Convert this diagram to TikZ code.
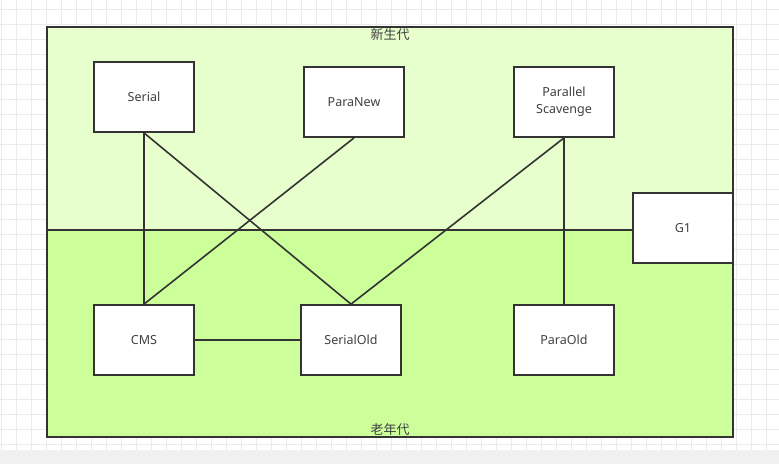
\documentclass[tikz,border=0pt]{standalone}
\usepackage{fontspec}
\setmainfont{Noto Sans}
\newfontfamily\cjk{Noto Sans CJK SC}
\definecolor{gridc}{HTML}{EBEBEB}
\definecolor{stripc}{HTML}{F0F0F0}
\definecolor{young}{HTML}{E6FFCC}
\definecolor{old}{HTML}{CCFF99}
\definecolor{edge}{HTML}{333333}
\definecolor{txt}{HTML}{404040}
\begin{document}
\begin{tikzpicture}[x=1pt,y=-1pt,
  gcbox/.style={draw=edge,line width=1.8pt,fill=white,minimum width=100pt,minimum height=70pt,inner sep=0pt,
     font=\fontsize{12.5}{17}\selectfont,text=txt,align=center},
  region/.style={draw=edge,line width=1.8pt,minimum width=686pt,inner sep=0pt},
  lbl/.style={font=\cjk\fontsize{13}{15}\selectfont,text=txt,inner sep=0pt},
  conn/.style={draw=edge,line width=1.6pt}]
\useasboundingbox (0,0) rectangle (779,464);
% background grid
\fill[white] (0,0) rectangle (779,450);
\foreach \k in {0,...,51}{\draw[gridc,line width=0.8pt] ({1.7+15*\k},0) -- ({1.7+15*\k},450);}
\foreach \k in {0,...,29}{\draw[gridc,line width=0.8pt] (0,{9.3+15*\k}) -- (779,{9.3+15*\k});}
\fill[stripc] (0,450) rectangle (779,464);
% regions
\node[region,fill=young,minimum height=203pt] (youngreg) at (390,128.5) {};
\node[region,fill=old,minimum height=207pt] (oldreg) at (390,333.5) {};
\node[lbl] (younglbl) at (390,35) {新生代};
\node[lbl] (oldlbl) at (390,430) {老年代};
% collectors
\node[gcbox] (serial) at (144,97) {Serial};
\node[gcbox] (paranew) at (354,102) {ParaNew};
\node[gcbox] (ps) at (564,102) {Parallel\\Scavenge};
\node[gcbox] (cms) at (144,340) {CMS};
\node[gcbox] (serialold) at (351,340) {SerialOld};
\node[gcbox] (paraold) at (564,340) {ParaOld};
\node[gcbox] (g1) at (683,228) {G1};
% connectors
\draw[conn] (serial.south) -- (cms.north);
\draw[conn] (serial.south) -- (serialold.north);
\draw[conn] (paranew.south) -- (cms.north);
\draw[conn] (ps.south) -- (serialold.north);
\draw[conn] (ps.south) -- (paraold.north);
\draw[conn] (cms.east) -- (serialold.west);
\end{tikzpicture}
\end{document}
